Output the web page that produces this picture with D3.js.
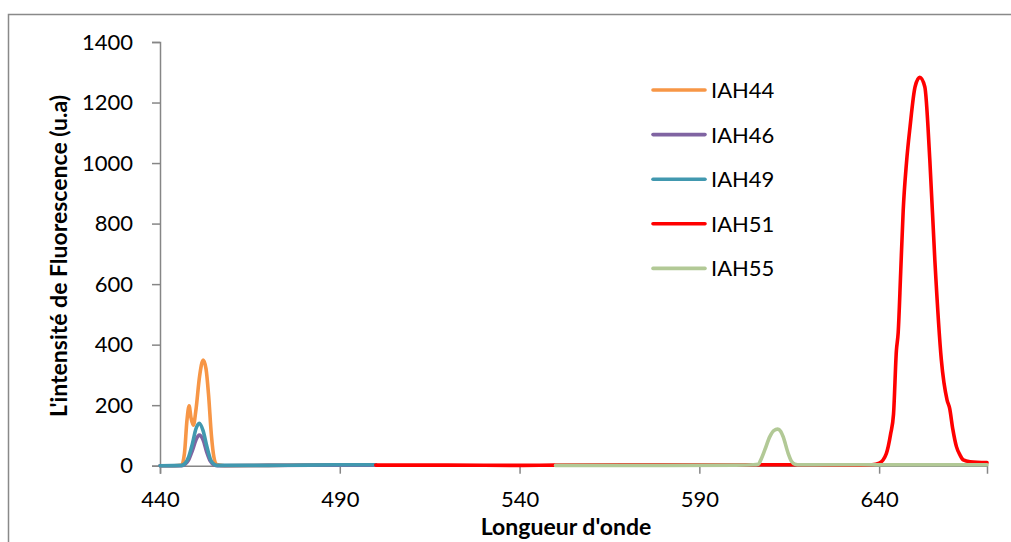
<!DOCTYPE html>
<html><head><meta charset="utf-8">
<script src="https://cdn.jsdelivr.net/npm/d3@7"></script>
<style>body{margin:0;background:#fff}svg{display:block}text{font-family:Lato,"Liberation Sans",sans-serif;fill:#000}</style>
</head><body><svg id="c" width="1011" height="542"></svg>
<script>
const seriesNames = ["IAH44","IAH46","IAH49","IAH51","IAH55"];
const seriesColors = ["#F79646","#8064A2","#4198AF","#FF0000","#B2C996"];
const xTicks = [440,490,540,590,640];
const yTicks = [0,200,400,600,800,1000,1200,1400];

const IAH44 = [[440,0],[444,0],[446,2],[446.8,40],[447.5,150],[448.1,198],[448.6,160],[449.3,134],[450,185],[451,295],[452,349],[452.8,320],[453.5,235],[454.3,100],[455,28],[455.8,4],[458,0],[470,1],[480,2],[490,3],[500,3]];
const IAH46 = [[440,0],[446,0],[447,5],[448,20],[449,50],[450,85],[450.9,101],[452,85],[453,45],[454,15],[455,3],[456,0],[470,1],[500,2]];
const IAH49 = [[440,0],[446,1],[447,8],[448,30],[449,72],[450,122],[450.9,140],[452,115],[453,65],[454,22],[455,5],[456,1],[470,1],[480,2],[490,3],[500,3]];
const IAH51 = [[500,2],[520,2],[540,1],[550,2],[600,3],[620,3],[635,2],[638,3],[640,8],[642,40],[643.2,105],[644,170],[644.8,380],[645.3,440],[646,640],[646.7,845],[647.6,1000],[648.6,1120],[650,1252],[651.3,1283],[652.7,1252],[654.1,1010],[655.5,678],[657.3,350],[658.9,217],[659.6,190],[660.5,120],[661.5,63],[662.5,35],[663.4,19],[665.3,13],[670,10]];
const IAH55 = [[550,1],[580,1],[600,2],[605,3],[606.4,5],[607.3,25],[608.2,52],[609.6,96],[610.7,116],[611.8,121],[612.6,114],[613.3,96],[614.7,41],[615.6,15],[616.6,5],[618,3],[640,3],[670,3]];
const seriesData = [IAH44, IAH46, IAH49, IAH51, IAH55];

const svg = d3.select("#c");
const x = d3.scaleLinear().domain([440,670]).range([160,987]);
const y = d3.scaleLinear().domain([0,1400]).range([465.7,42]);
const axisCol = "#868686";

// chart border
svg.append("rect").attr("x",8.5).attr("y",14.5).attr("width",1010).attr("height",540)
  .attr("fill","none").attr("stroke","#898989").attr("stroke-width",1.5);

// y axis
const ya = svg.append("g").attr("transform","translate(160,0)")
  .call(d3.axisLeft(y).tickValues(yTicks).tickSize(8).tickPadding(19).tickFormat(d3.format("d")));
ya.select(".domain").attr("stroke",axisCol).attr("stroke-width",1.5);
ya.selectAll(".tick line").attr("stroke",axisCol).attr("stroke-width",1.5);
ya.selectAll("text").attr("font-size",22).attr("font-family","Lato, 'Liberation Sans', sans-serif").attr("fill","#000");

// x axis
const xa = svg.append("g").attr("transform","translate(0,465.7)")
  .call(d3.axisBottom(x).tickValues(xTicks).tickSize(8).tickPadding(18).tickFormat(d3.format("d")));
xa.select(".domain").attr("stroke",axisCol).attr("stroke-width",1.5);
xa.selectAll(".tick line").attr("stroke",axisCol).attr("stroke-width",1.5);
xa.selectAll("text").attr("font-size",22).attr("font-family","Lato, 'Liberation Sans', sans-serif").attr("fill","#000");

// lines
const line = d3.line().x(d=>x(d[0])).y(d=>y(d[1])).curve(d3.curveMonotoneX);
seriesData.forEach((s,i)=>{
  svg.append("path").datum(s).attr("d",line).attr("fill","none")
    .attr("stroke",seriesColors[i]).attr("stroke-width",3.6)
    .attr("stroke-linejoin","round").attr("stroke-linecap","round");
});

// legend
seriesNames.forEach((n,i)=>{
  const ly = 90 + i*44.6;
  svg.append("line").attr("x1",653).attr("x2",705).attr("y1",ly).attr("y2",ly)
    .attr("stroke",seriesColors[i]).attr("stroke-width",3.6).attr("stroke-linecap","round");
  svg.append("text").attr("x",711).attr("y",ly+8).attr("font-size",22).text(n);
});

// titles
svg.append("text").attr("x",566).attr("y",535).attr("text-anchor","middle")
  .attr("font-size",23).attr("font-weight","bold").text("Longueur d'onde");
svg.append("text").attr("transform","translate(67,256) rotate(-90)").attr("text-anchor","middle")
  .attr("font-size",23).attr("font-weight","bold").text("L'intensité de Fluorescence (u.a)");
</script></body></html>
